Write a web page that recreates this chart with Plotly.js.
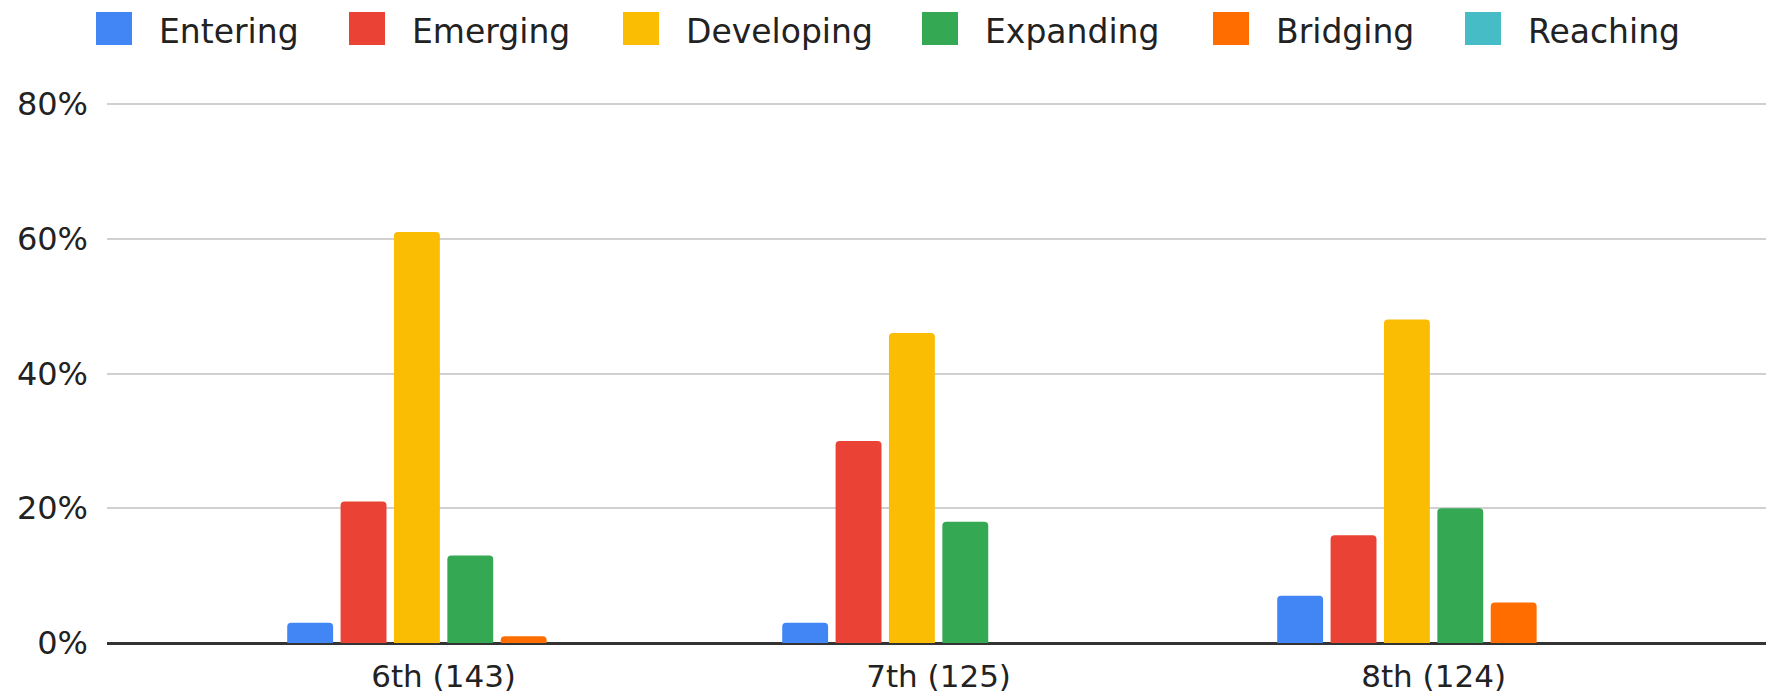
<!DOCTYPE html>
<html>
<head>
<meta charset="utf-8">
<script src="https://cdn.plot.ly/plotly-3.0.1.min.js"></script>
<style>
  html, body { margin: 0; padding: 0; background: #ffffff; }
  #chart { width: 1766px; height: 699px; }
</style>
</head>
<body>
<div id="chart"></div>
<script>
// ---- Data ----
const grades = ["6th (143)", "7th (125)", "8th (124)"];
const seriesNames = ["Entering", "Emerging", "Developing", "Expanding", "Bridging", "Reaching"];
const entering   = [0.03, 0.03, 0.07];
const emerging   = [0.21, 0.30, 0.16];
const developing = [0.61, 0.46, 0.48];
const expanding  = [0.13, 0.18, 0.20];
const bridging   = [0.01, 0.00, 0.06];
const reaching   = [0.00, 0.00, 0.00];
const yTickVals  = [0, 0.2, 0.4, 0.6, 0.8];

// ---- Styles ----
const seriesValues = [entering, emerging, developing, expanding, bridging, reaching];
const colors = ["#4285F4", "#EA4335", "#FBBC04", "#34A853", "#FF6D01", "#46BDC6"];
const FONT = "DejaVu Sans";
const TEXT = "#222222";

const W = 1766, H = 699;
const M = { l: 107, r: 0, t: 103, b: 56 };
const plotW = W - M.l - M.r, plotH = H - M.t - M.b;
const px2x = px => (px - M.l) / plotW;
const py2y = py => (H - M.b - py) / plotH;

const traces = seriesNames.map((name, i) => ({
  type: "bar",
  name: name,
  x: grades,
  y: seriesValues[i],
  marker: { color: colors[i], line: { width: 0 } },
  hoverinfo: "none",
  showlegend: false
}));

// custom legend (large swatches like the source chart)
const legendX = [96, 349, 623, 922, 1213, 1465];
const shapes = [], annotations = [];
seriesNames.forEach((name, i) => {
  shapes.push({
    type: "rect", xref: "paper", yref: "paper",
    x0: px2x(legendX[i]), x1: px2x(legendX[i] + 36),
    y0: py2y(45), y1: py2y(12),
    fillcolor: colors[i], line: { width: 0 }, layer: "above"
  });
  annotations.push({
    xref: "paper", yref: "paper",
    x: px2x(legendX[i] + 61), y: py2y(31),
    xanchor: "left", yanchor: "middle",
    text: name, showarrow: false,
    font: { family: FONT, size: 33, color: TEXT }
  });
});

const layout = {
  width: W, height: H,
  margin: M,
  paper_bgcolor: "#ffffff",
  plot_bgcolor: "#ffffff",
  barmode: "group",
  bargap: 0.353,
  bargroupgap: 0.14,
  barcornerradius: 4,
  showlegend: false,
  font: { family: FONT, size: 32, color: TEXT },
  xaxis: {
    type: "category",
    range: [-0.68, 2.6715],
    showgrid: false,
    showline: false,
    zeroline: false,
    ticks: "",
    tickfont: { family: FONT, size: 31, color: TEXT },
    ticklabelstandoff: 12,
    fixedrange: true
  },
  yaxis: {
    range: [0, 0.8015],
    tickvals: yTickVals,
    tickformat: ".0%",
    showgrid: true,
    gridcolor: "#d0d0d0",
    gridwidth: 2,
    zeroline: true,
    zerolinecolor: "#333333",
    zerolinewidth: 3,
    showline: false,
    ticks: "",
    tickfont: { family: FONT, size: 32, color: TEXT },
    ticklabelstandoff: 18,
    fixedrange: true
  },
  shapes: shapes,
  annotations: annotations
};

Plotly.newPlot("chart", traces, layout, { displayModeBar: false, staticPlot: true });
</script>
</body>
</html>
